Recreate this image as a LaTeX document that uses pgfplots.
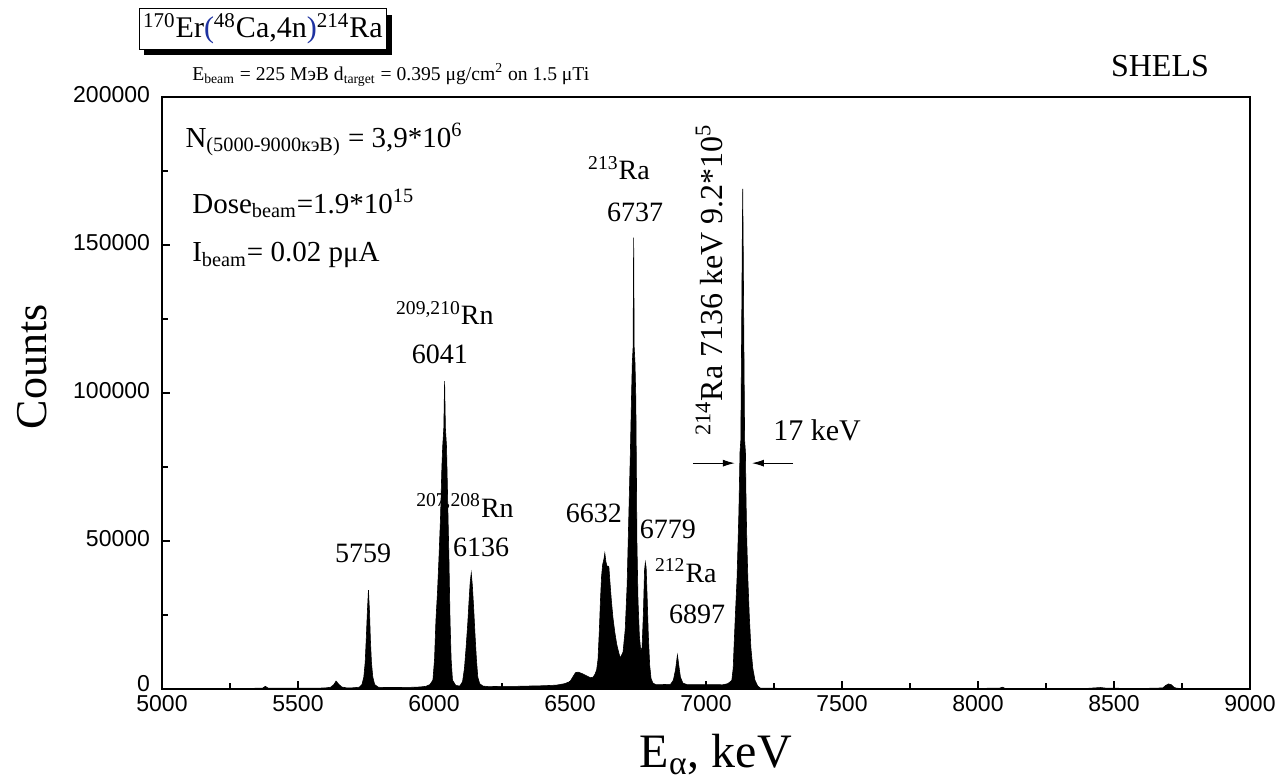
\documentclass[border=0pt]{standalone}
\usepackage{fontspec}
\setmainfont{Liberation Serif}
\newfontfamily\sansf{Liberation Sans}
\usepackage{pgfplots}
\pgfplotsset{compat=1.18}
\usepackage{pgfplotstable}
\usetikzlibrary{arrows.meta,shadows}
\definecolor{parblue}{RGB}{30,50,160}
\newcommand\fsz[1]{\fontsize{#1}{#1}\selectfont}

\pgfplotstableread{
E C
5000 150
5050 200
5100 150
5150 200
5200 150
5250 200
5300 200
5350 250
5370 300
5380 900
5390 300
5420 250
5470 250
5520 300
5570 300
5600 350
5620 600
5632 1500
5640 2700
5648 1800
5660 700
5680 350
5700 400
5725 600
5735 1500
5742 4000
5747 9000
5751 17000
5755 26000
5759 33400
5763 26000
5766 17000
5770 9000
5775 4000
5782 1500
5795 600
5820 500
5860 500
5900 550
5930 600
5950 700
5970 900
5985 1500
5996 3000
6002 10000
6007 23000
6013 33000
6018 43600
6024 58000
6029 75000
6032 82000
6036 88000
6039 104000
6042 88000
6046 82000
6050 65000
6055 43600
6059 23000
6063 10000
6068 3000
6080 1200
6095 1000
6105 2500
6112 7000
6118 14000
6124 22000
6129 30000
6133 36000
6137 39200
6141 35000
6146 27000
6151 18000
6156 10000
6161 4000
6168 1800
6180 1000
6200 800
6250 900
6300 900
6350 1000
6400 1100
6450 1300
6480 1800
6500 2500
6510 4000
6520 5500
6530 5700
6545 5200
6560 4500
6575 3800
6585 4000
6592 5000
6598 6500
6603 10000
6608 20000
6612 30000
6616 38000
6620 42000
6625 44000
6628 45900
6632 43000
6636 41500
6640 41500
6643 41200
6647 36000
6652 30000
6658 24000
6665 19000
6672 15000
6680 12000
6685 10500
6695 12500
6703 20000
6710 35000
6714 50000
6718 65000
6722 80000
6726 98000
6729 110000
6732 115500
6734 152500
6736 115500
6739 110000
6742 98000
6744 75000
6746 50000
6750 30000
6755 18000
6760 13000
6765 14000
6770 26000
6774 40000
6777 42800
6780 41000
6784 30000
6788 18000
6793 8000
6798 3500
6805 2000
6815 1500
6840 1500
6870 1600
6880 3000
6888 6500
6895 11500
6900 8000
6906 4000
6915 2000
6930 1500
7000 1500
7040 1500
7060 1400
7080 1800
7090 2500
7095 3000
7100 7000
7103 14000
7108 25000
7114 37000
7118 50000
7121 60000
7123 70000
7125 80000
7128 84000
7131 120000
7133 147000
7135 169000
7137 147000
7139 120000
7142 84000
7145 80000
7147 65000
7150 50000
7154 37000
7159 25000
7165 14000
7172 7000
7180 3000
7190 1000
7200 300
7300 200
7400 150
7500 150
7600 150
7700 150
7800 150
7900 150
8000 200
8080 300
8090 600
8100 200
8200 150
8300 150
8400 200
8450 500
8470 300
8550 200
8650 250
8680 400
8690 1200
8700 1700
8710 1500
8720 600
8730 250
8800 150
8900 100
9000 100
}\spectrum

\begin{document}
\begin{tikzpicture}
\useasboundingbox (-81pt,-47pt) rectangle (558pt,344.5pt);
\begin{axis}[
  scale only axis, width=544pt, height=296pt,
  xmin=5000, xmax=9000, ymin=0, ymax=200000,
  xtick={5000,5500,...,9000}, ytick={0,50000,100000,150000,200000},
  yticklabels={\raisebox{4pt}{0},50000,100000,150000,200000},
  minor x tick num=1, minor y tick num=1,
  xtick pos=left, ytick pos=left, tick align=inside,
  major tick length=4pt, minor tick length=3pt,
  tick style={black, line width=0.8pt},
  axis line style={line width=1pt},
  scaled ticks=false,
  /pgf/number format/fixed,
  /pgf/number format/precision=0,
  /pgf/number format/1000 sep={},
  /pgf/number format/assume math mode=true,
  tick label style={font=\sansf\fsz{11.5}},
  yticklabel style={xshift=-2.5pt, yshift=1pt},
  xticklabel style={yshift=0.5pt},
  xlabel={E\textsubscript{α}, keV},
  ylabel={Counts},
  xlabel style={at={(axis description cs:0.509,-0.111)}, anchor=center, font=\fsz{24}},
  ylabel style={at={(axis description cs:-0.1195,0.544)}, anchor=center, font=\fsz{22}},
  clip=false,
]
\addplot[draw=black, fill=black, line width=0.3pt] table[x=E,y=C]{\spectrum} \closedcycle;

\node[draw=black, fill=white, line width=0.6pt, inner xsep=2pt, inner ysep=2.5pt,
  drop shadow={shadow xshift=2.5pt, shadow yshift=-3pt, fill=black, opacity=1},
  font=\fsz{15}] at (axis cs:5371,223000)
  {\textsuperscript{170}Er{\color{parblue}(}\textsuperscript{48}Ca,4n{\color{parblue})}\textsuperscript{214}Ra};
\begin{scope}[every node/.style={inner sep=0pt}]
\node[anchor=base west, font=\fsz{9.8}] at (axis cs:5110,205700)
  {E\textsubscript{beam} = 225 МэВ d\textsubscript{target} = 0.395 μg/cm\textsuperscript{2} on 1.5 μTi};
\node[font=\fsz{16}] at (axis cs:8669,210500) {SHELS};

\node[anchor=base west, font=\fsz{14.5}] at (axis cs:5085,183100) {N\textsubscript{(5000-9000кэВ)} = 3,9*10\textsuperscript{6}};
\node[anchor=base west, font=\fsz{14.5}] at (axis cs:5110,160800) {Dose\textsubscript{beam}=1.9*10\textsuperscript{15}};
\node[anchor=base west, font=\fsz{14.5}] at (axis cs:5110,144300) {I\textsubscript{beam}= 0.02 pμA};

\node[anchor=base, font=\fsz{14}] at (axis cs:5739,42600) {5759};
\node[anchor=base, font=\fsz{14}] at (axis cs:6040,123000) {\textsuperscript{209,210}Rn};
\node[anchor=base, font=\fsz{14}] at (axis cs:6022,110100) {6041};
\node[anchor=base, font=\fsz{14}] at (axis cs:6114,58100) {\textsuperscript{207,208}Rn};
\node[anchor=base, font=\fsz{14}] at (axis cs:6173,44600) {6136};
\node[anchor=base, font=\fsz{14}] at (axis cs:6588,56100) {6632};
\node[anchor=base, font=\fsz{14}] at (axis cs:6860,51000) {6779};
\node[anchor=base, font=\fsz{14}] at (axis cs:6926,36100) {\textsuperscript{212}Ra};
\node[anchor=base, font=\fsz{14}] at (axis cs:6967,22300) {6897};
\node[anchor=base, font=\fsz{14}] at (axis cs:6680,172000) {\textsuperscript{213}Ra};
\node[anchor=base, font=\fsz{14}] at (axis cs:6739,157800) {6737};
\node[rotate=90, anchor=base, font=\fsz{16}] at (axis cs:7062,138200) {\textsuperscript{214}Ra 7136 keV 9.2*10\textsuperscript{5}};
\node[anchor=base west, font=\fsz{15}] at (axis cs:7246,84100) {17 keV};
\end{scope}
\draw[-{Latex[length=6pt,width=3.5pt]}, line width=0.5pt] (axis cs:6952,76300) -- (axis cs:7106,76300);
\draw[-{Latex[length=6pt,width=3.5pt]}, line width=0.5pt] (axis cs:7320,76300) -- (axis cs:7169,76300);
\end{axis}
\end{tikzpicture}
\end{document}
